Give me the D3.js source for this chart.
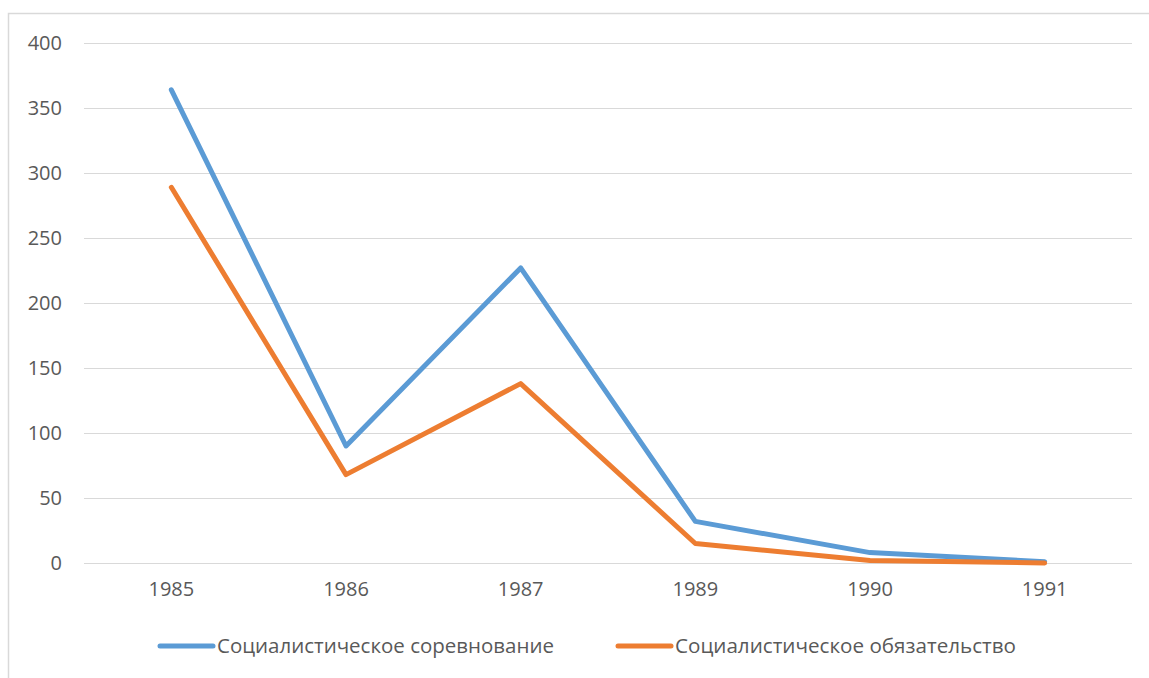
<!DOCTYPE html>
<html>
<head>
<meta charset="utf-8">
<script src="https://cdn.jsdelivr.net/npm/d3@7"></script>
<style>
  body { margin: 0; background: #fff; }
  svg { display: block; font-family: "Open Sans", "Noto Sans", sans-serif; }
</style>
</head>
<body>
<div id="grafico"></div>
<script>
// datos del grafico
let anios = ["1985", "1986", "1987", "1989", "1990", "1991"]
let sorevnovanie = [364, 90, 227, 32, 8, 1]
let obyazatelstvo = [289, 68, 138, 15, 2, 0]
let nombres_series = ["Социалистическое соревнование", "Социалистическое обязательство"]
let y_ticks = [0, 50, 100, 150, 200, 250, 300, 350, 400]

let width = 1149
let height = 678
let colores = ["#5b9bd5", "#ed7d31"]

let svg = d3.select("#grafico").append("svg")
    .attr("width", width)
    .attr("height", height)

// marco del grafico
svg.append("rect")
    .attr("x", 8.5).attr("y", 13.5)
    .attr("width", 1300).attr("height", 800)
    .attr("fill", "none")
    .attr("stroke", "#d9d9d9")
    .attr("stroke-width", 1.5)

let x = d3.scaleBand()
    .domain(anios)
    .range([84, 1132])

let y = d3.scaleLinear()
    .domain([0, 400])
    .range([563, 43])

// lineas de la rejilla
svg.append("g")
    .selectAll("line")
    .data(y_ticks)
    .enter().append("line")
    .attr("x1", 84).attr("x2", 1132)
    .attr("y1", d => Math.round(y(d)) + 0.5)
    .attr("y2", d => Math.round(y(d)) + 0.5)
    .attr("stroke", "#d9d9d9")
    .attr("stroke-width", 1)

// eje Y
let ejeY = svg.append("g")
    .attr("transform", "translate(62,0)")
    .call(d3.axisLeft(y).tickValues(y_ticks).tickSize(0).tickPadding(0))
ejeY.select(".domain").remove()
ejeY.selectAll("text")
    .attr("font-size", 20)
    .attr("fill", "#595959")
    .attr("font-family", "Open Sans, sans-serif")

// eje X
let ejeX = svg.append("g")
    .attr("transform", "translate(0,563)")
    .call(d3.axisBottom(x).tickSize(0).tickPadding(19))
ejeX.select(".domain").remove()
ejeX.selectAll("text")
    .attr("font-size", 20)
    .attr("fill", "#595959")
    .attr("font-family", "Open Sans, sans-serif")

// series
let series = [sorevnovanie, obyazatelstvo]
let linea = d3.line()
    .x((d, i) => x(anios[i]) + x.bandwidth() / 2)
    .y(d => y(d))

svg.append("g")
    .selectAll("path")
    .data(series)
    .enter().append("path")
    .attr("d", d => linea(d))
    .attr("fill", "none")
    .attr("stroke", (d, i) => colores[i])
    .attr("stroke-width", 5)
    .attr("stroke-linejoin", "round")
    .attr("stroke-linecap", "round")

// leyenda
let leyenda_x = [160, 618]
let leyenda = svg.append("g")
    .selectAll("g")
    .data(nombres_series)
    .enter().append("g")
    .attr("transform", (d, i) => "translate(" + leyenda_x[i] + ",646)")

leyenda.append("line")
    .attr("x1", 0).attr("x2", 53)
    .attr("y1", 0).attr("y2", 0)
    .attr("stroke", (d, i) => colores[i])
    .attr("stroke-width", 5)
    .attr("stroke-linecap", "round")

leyenda.append("text")
    .attr("x", 57)
    .attr("y", 0)
    .attr("dy", "0.35em")
    .attr("font-size", 20)
    .attr("fill", "#595959")
    .attr("textLength", (d, i) => i == 0 ? 337 : 341)
    .attr("lengthAdjust", "spacingAndGlyphs")
    .text(d => d)
</script>
</body>
</html>
